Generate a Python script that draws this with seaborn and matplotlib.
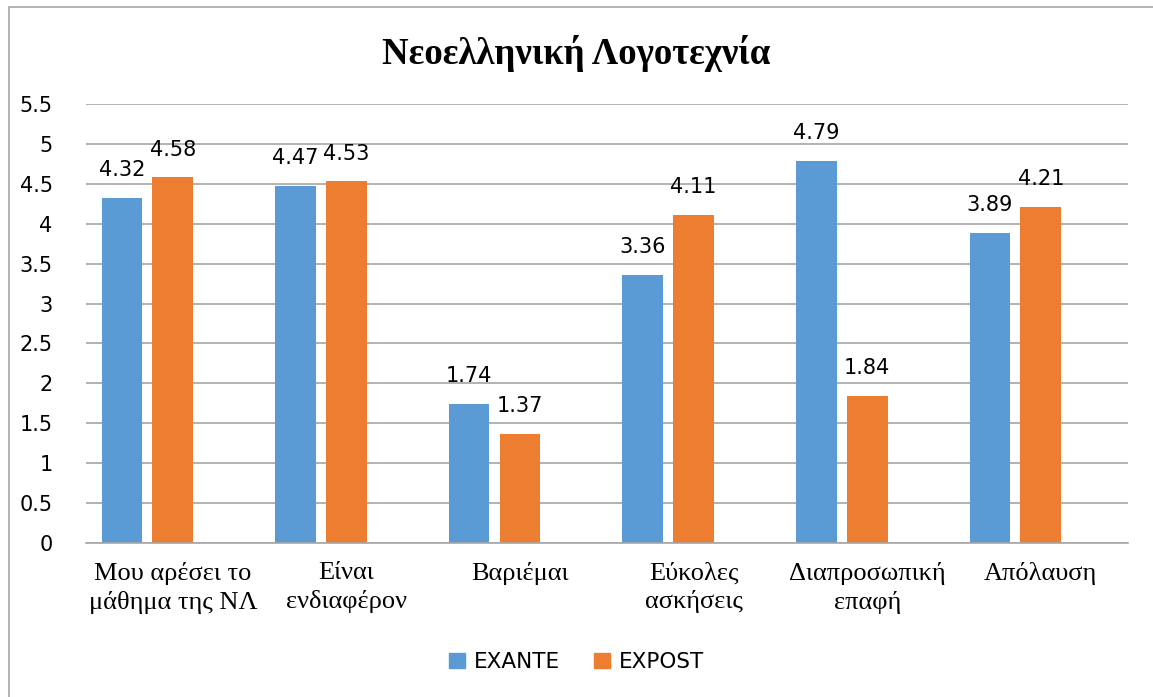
import numpy as np
import pandas as pd
import seaborn as sns
import matplotlib.pyplot as plt
import matplotlib.patches as mpatches

# data
categories = ["Μου αρέσει το\nμάθημα της ΝΛ", "Είναι\nενδιαφέρον", "Βαριέμαι",
              "Εύκολες\nασκήσεις", "Διαπροσωπική\nεπαφή", "Απόλαυση"]
exante = [4.32, 4.47, 1.74, 3.36, 4.79, 3.89]
expost = [4.58, 4.53, 1.37, 4.11, 1.84, 4.21]
series = ["EXANTE", "EXPOST"]
colors = ["#5B9BD5", "#ED7D31"]

# third (empty) series keeps the excel-style offset of the bar groups
df = pd.DataFrame({
    "cat": categories * 3,
    "val": exante + expost + [0.0] * len(categories),
    "series": ["EXANTE"] * 6 + ["EXPOST"] * 6 + ["blank"] * 6,
})

sns.set_style("white")
plt.rcParams["text.color"] = "black"
plt.rcParams["xtick.color"] = "black"
plt.rcParams["ytick.color"] = "black"
fig = plt.figure(figsize=(11.53, 6.97), dpi=100)
ax = fig.add_axes([0.0746, 0.2209, 0.9034, 0.6299])

sns.barplot(data=df, x="cat", y="val", hue="series",
            hue_order=series + ["blank"],
            palette=colors + ["#FFFFFF"], saturation=1,
            width=0.88, gap=0.2, ax=ax, legend=False)

for cont in ax.containers[:2]:
    for bar in cont:
        bar.set_linewidth(0)
        h = bar.get_height()
        ax.annotate(f"{h:.2f}", (bar.get_x() + bar.get_width() / 2, h),
                    xytext=(0, 20), textcoords="offset points",
                    ha="center", va="center", fontsize=15,
                    family="DejaVu Sans")

ax.set_ylim(0, 5.5)
ax.set_yticks(np.arange(0, 5.51, 0.5))
ax.set_yticklabels([f"{v:g}" for v in np.arange(0, 5.51, 0.5)], fontsize=15)
ax.tick_params(axis="y", length=0, pad=24)
ax.tick_params(axis="x", length=0, pad=14)
for lbl in ax.get_xticklabels():
    lbl.set_family("Liberation Serif")
    lbl.set_fontsize(19)
    lbl.set_linespacing(1.3)
ax.grid(axis="y", color="#A6A6A6", linewidth=1.2)
ax.set_axisbelow(True)
for s in ["left", "right", "top"]:
    ax.spines[s].set_visible(False)
ax.spines["bottom"].set_color("#A6A6A6")
ax.spines["bottom"].set_linewidth(1.2)
ax.set_xlabel("")
ax.set_ylabel("")

fig.text(0.5, 1 - 53 / 697, "Νεοελληνική Λογοτεχνία", ha="center", va="center",
         fontsize=26.5, fontweight="bold", family="Liberation Serif")

handles = [mpatches.Patch(color=c, label=s) for c, s in zip(colors, series)]
fig.legend(handles=handles, loc="center", bbox_to_anchor=(0.5, 1 - 662 / 697),
           ncol=2, frameon=False, fontsize=15.5, handlelength=0.75, handleheight=0.75,
           handletextpad=0.4, columnspacing=1.6)

fig.patches.append(mpatches.Rectangle((9 / 1153, -0.1), 1.2, 1.1 - 7 / 697,
                                      transform=fig.transFigure, fill=False,
                                      edgecolor="#A6A6A6", linewidth=1.2))

fig.savefig("out.png", dpi=100)
